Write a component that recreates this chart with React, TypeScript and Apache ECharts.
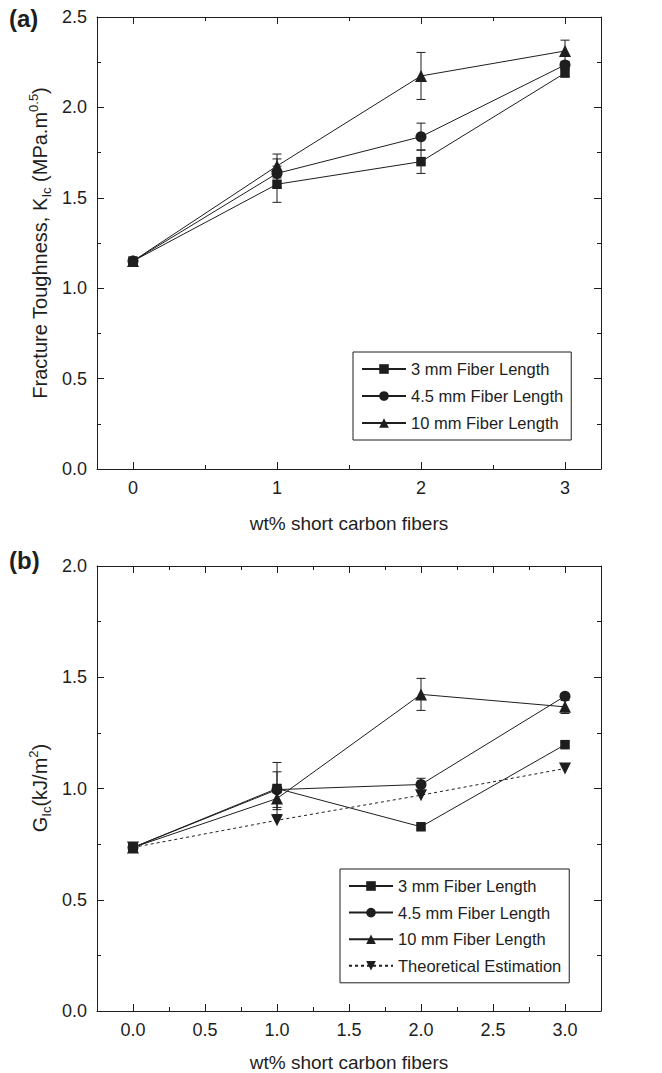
import React, { useEffect, useRef } from "react";
import * as echarts from "echarts";

// ---------- data ----------
const xValues = [0, 1, 2, 3];

// (a) Fracture toughness K_Ic
const kic3mm = [1.15, 1.575, 1.7, 2.19];
const kic3mmErr = [0, 0.1, 0.065, 0.02];
const kic45mm = [1.15, 1.635, 1.838, 2.235];
const kic45mmErr = [0, 0.08, 0.075, 0.02];
const kic10mm = [1.15, 1.676, 2.174, 2.312];
const kic10mmErr = [0, 0.066, 0.13, 0.06];

// (b) G_Ic
const gic3mm = [0.735, 1.0, 0.828, 1.197];
const gic3mmErr = [0, 0.117, 0.01, 0.01];
const gic45mm = [0.735, 0.995, 1.018, 1.415];
const gic45mmErr = [0, 0.08, 0.028, 0.01];
const gic10mm = [0.735, 0.955, 1.423, 1.367];
const gic10mmErr = [0, 0.05, 0.072, 0.03];
const gicTheory = [0.735, 0.857, 0.97, 1.09];

// ticks
const topMajorTicks = [0, 1, 2, 3];
const topMinorTicks = [0.5, 1.5, 2.5];
const botMajorTicks = [0, 0.5, 1, 1.5, 2, 2.5, 3];
const botMinorTicks = [0.25, 0.75, 1.25, 1.75, 2.25, 2.75];

const names = ["3 mm Fiber Length", "4.5 mm Fiber Length", "10 mm Fiber Length", "Theoretical Estimation"];

const INK = "#1e1e1e";
const FONT = "Liberation Sans, Arial, sans-serif";
const TICK_FS = 18;

function pairs(ys: number[]) {
  return xValues.map((x, i) => [x, ys[i]]);
}
function errPairs(ys: number[], es: number[]) {
  return xValues.map((x, i) => [x, ys[i], es[i]]);
}

function xAxes(grid: number, majors: number[], minors: number[], fmt: (v: number) => string) {
  const base = {
    type: "value",
    gridIndex: grid,
    min: -0.25,
    max: 3.25,
    splitLine: { show: false },
    axisLine: { show: true, onZero: false, lineStyle: { color: INK, width: 1 } },
  };
  const tickStyle = { color: INK, width: 1 };
  return [
    {
      ...base,
      position: "bottom",
      axisTick: { inside: true, length: 7, customValues: majors, lineStyle: tickStyle },
      axisLabel: {
        customValues: majors,
        formatter: (v: number) => fmt(v),
        color: INK,
        fontSize: TICK_FS,
        fontFamily: FONT,
        margin: 10,
      },
    },
    {
      ...base,
      position: "bottom",
      axisLine: { show: false, onZero: false },
      axisTick: { inside: true, length: 4, customValues: minors, lineStyle: tickStyle },
      axisLabel: { show: false },
    },
    {
      ...base,
      position: "top",
      axisTick: { inside: true, length: 7, customValues: majors, lineStyle: tickStyle },
      axisLabel: { show: false },
    },
    {
      ...base,
      position: "top",
      axisLine: { show: false, onZero: false },
      axisTick: { inside: true, length: 4, customValues: minors, lineStyle: tickStyle },
      axisLabel: { show: false },
    },
  ];
}

function yAxes(grid: number, max: number) {
  const base = {
    type: "value",
    gridIndex: grid,
    min: 0,
    max,
    interval: 0.5,
    splitLine: { show: false },
    axisLine: { show: true, onZero: false, lineStyle: { color: INK, width: 1 } },
    axisTick: { inside: true, length: 7, lineStyle: { color: INK, width: 1 } },
    minorTick: { show: true, splitNumber: 2, length: 4, lineStyle: { color: INK, width: 1 } },
    minorSplitLine: { show: false },
  };
  return [
    {
      ...base,
      position: "left",
      axisLabel: {
        formatter: (v: number) => v.toFixed(1),
        color: INK,
        fontSize: TICK_FS,
        fontFamily: FONT,
        margin: 10,
      },
    },
    { ...base, position: "right", axisLabel: { show: false } },
  ];
}

function lineSeries(name: string, ys: number[], symbol: string, xi: number, yi: number, extra: any = {}) {
  return {
    type: "line",
    name,
    xAxisIndex: xi,
    yAxisIndex: yi,
    data: pairs(ys),
    symbol,
    symbolSize: symbol === "circle" ? 11 : symbol === "rect" ? 9.5 : 12,
    itemStyle: { color: INK },
    lineStyle: { color: INK, width: 1 },
    z: 3,
    ...extra,
  };
}

function errSeries(ys: number[], es: number[], xi: number, yi: number) {
  return {
    type: "custom",
    name: "err",
    xAxisIndex: xi,
    yAxisIndex: yi,
    data: errPairs(ys, es),
    encode: { x: 0, y: 1 },
    z: 2,
    renderItem: (params: any, api: any) => {
      const x = api.value(0);
      const y = api.value(1);
      const e = api.value(2);
      if (!e) return null;
      const top = api.coord([x, y + e]);
      const bot = api.coord([x, y - e]);
      const hw = 4.5;
      const style = { stroke: INK, lineWidth: 1 };
      return {
        type: "group",
        children: [
          { type: "line", shape: { x1: top[0], y1: top[1], x2: bot[0], y2: bot[1] }, style },
          { type: "line", shape: { x1: top[0] - hw, y1: top[1], x2: top[0] + hw, y2: top[1] }, style },
          { type: "line", shape: { x1: bot[0] - hw, y1: bot[1], x2: bot[0] + hw, y2: bot[1] }, style },
        ],
      };
    },
  };
}

const richTitle = {
  b: { fontSize: 20, lineHeight: 26, fontFamily: FONT, fill: INK },
  sub: { fontSize: 13, lineHeight: 13, verticalAlign: "bottom", fontFamily: FONT, fill: INK },
  sup: { fontSize: 13, lineHeight: 13, verticalAlign: "top", fontFamily: FONT, fill: INK },
};

export default function App() {
  const ref = useRef<HTMLDivElement>(null);
  useEffect(() => {
    if (!ref.current) return;
    const chart = echarts.init(ref.current, undefined, { renderer: "svg" });
    const legendBase = {
      orient: "vertical",
      itemWidth: 44,
      itemHeight: 12,
      borderColor: INK,
      borderWidth: 1,
      borderRadius: 0,
      textStyle: { color: INK, fontSize: 16.5, fontFamily: FONT },
      selectedMode: false,
    };
    const option: any = {
      animation: false,
      backgroundColor: "#ffffff",
      grid: [
        { left: 97, top: 17, width: 504, height: 452, outerBoundsMode: "none", containLabel: false },
        { left: 97, top: 566, width: 504, height: 445, outerBoundsMode: "none", containLabel: false },
      ],
      xAxis: [
        ...xAxes(0, topMajorTicks, topMinorTicks, (v) => String(v)),
        ...xAxes(1, botMajorTicks, botMinorTicks, (v) => v.toFixed(1)),
      ],
      yAxis: [...yAxes(0, 2.5), ...yAxes(1, 2.0)],
      legend: [
        { ...legendBase, left: 353, top: 352, itemGap: 10, padding: [8.5, 8, 8.5, 8], data: names.slice(0, 3) },
        { ...legendBase, left: 340, top: 869, itemGap: 9.6, padding: [8.5, 8, 8.5, 8], data: names },
      ],
      series: [
        errSeries(kic3mm, kic3mmErr, 0, 0),
        errSeries(kic45mm, kic45mmErr, 0, 0),
        errSeries(kic10mm, kic10mmErr, 0, 0),
        lineSeries(names[0], kic3mm, "rect", 0, 0),
        lineSeries(names[1], kic45mm, "circle", 0, 0),
        lineSeries(names[2], kic10mm, "triangle", 0, 0),
        errSeries(gic3mm, gic3mmErr, 4, 2),
        errSeries(gic45mm, gic45mmErr, 4, 2),
        errSeries(gic10mm, gic10mmErr, 4, 2),
        lineSeries(names[0], gic3mm, "rect", 4, 2),
        lineSeries(names[1], gic45mm, "circle", 4, 2),
        lineSeries(names[2], gic10mm, "triangle", 4, 2),
        lineSeries(names[3], gicTheory, "triangle", 4, 2, {
          symbolRotate: 180,
          lineStyle: { color: INK, width: 1, type: [3, 3] },
        }),
      ],
      graphic: [
        {
          type: "text",
          x: 9,
          y: 18,
          style: {
            text: "(a)",
            fontSize: 24,
            fontWeight: "bold",
            fontFamily: FONT,
            fill: INK,
            verticalAlign: "middle",
          },
        },
        {
          type: "text",
          x: 9,
          y: 560,
          style: {
            text: "(b)",
            fontSize: 24,
            fontWeight: "bold",
            fontFamily: FONT,
            fill: INK,
            verticalAlign: "middle",
          },
        },
        {
          type: "text",
          x: 349,
          y: 523,
          style: {
            text: "wt% short carbon fibers",
            fontSize: 19,
            fontFamily: FONT,
            fill: INK,
            align: "center",
            verticalAlign: "middle",
          },
        },
        {
          type: "text",
          x: 349,
          y: 1062,
          style: {
            text: "wt% short carbon fibers",
            fontSize: 19,
            fontFamily: FONT,
            fill: INK,
            align: "center",
            verticalAlign: "middle",
          },
        },
        {
          type: "text",
          x: 40,
          y: 243,
          rotation: Math.PI / 2,
          style: {
            text: "{b|Fracture Toughness, K}{sub|Ic}{b| (MPa.m}{sup|0.5}{b|)}",
            rich: richTitle,
            align: "center",
            verticalAlign: "middle",
          },
        },
        {
          type: "text",
          x: 40,
          y: 788,
          rotation: Math.PI / 2,
          style: {
            text: "{b|G}{sub|Ic}{b|(kJ/m}{sup|2}{b|)}",
            rich: richTitle,
            align: "center",
            verticalAlign: "middle",
          },
        },
      ],
    };
    chart.setOption(option);
    return () => chart.dispose();
  }, []);
  return (
    <div
      ref={ref}
      style={{ position: "absolute", left: 0, top: 0, width: 662, height: 1073, background: "#fff" }}
    />
  );
}
